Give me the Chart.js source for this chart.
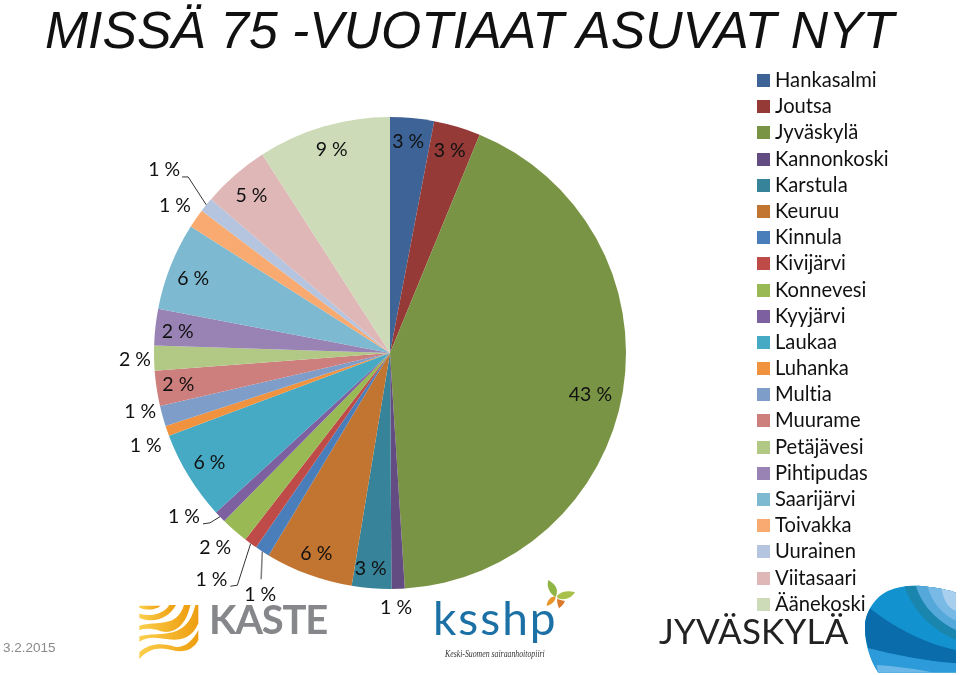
<!DOCTYPE html>
<html>
<head>
<meta charset="utf-8">
<title>Missä 75-vuotiaat asuvat nyt</title>
<script src="https://cdn.jsdelivr.net/npm/chart.js@4/dist/chart.umd.min.js"></script>
<style>
    html, body { margin: 0; padding: 0; background: #fff; }
    #slide { position: relative; width: 960px; height: 675px; overflow: hidden; }
    #slide > * { position: absolute; }
    #pie { left: 0; top: 0; }
    h1 {
        left: 45px; top: 0; margin: 0; white-space: nowrap;
        font: italic 400 51.7px "Liberation Sans", sans-serif; color: #111;
    }
    #date { left: 3px; top: 640px; font: 13.5px "Liberation Sans", sans-serif; color: #8a8a8a; }
    #legend {
        left: 757px; top: 66px; margin: 0; padding: 0; list-style: none;
        font: 20.2px Lato, sans-serif; font-variant-ligatures: none; color: #111;
    }
    #legend li { height: 26.2px; line-height: 26.2px; white-space: nowrap; }
    #legend i { display: inline-block; width: 13px; height: 13px; margin-right: 5px; }
    .logo-text { white-space: nowrap; font-family: Lato, sans-serif; }
</style>
</head>
<body>
<div id="slide">
    <canvas id="pie" width="960" height="675"></canvas>
    <h1>MISSÄ 75 -VUOTIAAT ASUVAT NYT</h1>
    <ul id="legend"></ul>
    <div id="date">3.2.2015</div>

    <!-- KASTE logo -->
    <svg style="left:130px;top:595px" width="100" height="75" viewBox="0 0 300 225">
        <defs>
            <linearGradient id="kasteGold" x1="0" x2="1" y1="0" y2="0">
                <stop offset="0" stop-color="#fbcf4c" />
                <stop offset="1" stop-color="#ee9e10" />
            </linearGradient>
        </defs>
        <g fill="url(#kasteGold)">
            <path d="M28 32 L92 32 C78 44 52 48 28 38Z" />
            <path d="M28 56 C60 66 100 58 118 30 L138 30 C115 72 70 86 28 68Z" />
            <path d="M28 92 C85 76 140 100 162 30 L181 30 C165 105 120 120 85 106 C65 100 45 100 28 105Z" />
            <path d="M28 124 C90 108 170 140 196 30 L205 30 L205 85 C180 145 130 135 90 130 C65 125 45 130 28 140Z" />
            <path d="M28 172 C60 140 105 145 135 155 C165 160 190 135 205 105 L205 135 C190 165 160 175 125 165 C90 155 55 160 28 192Z" />
        </g>
    </svg>
    <div class="logo-text" style="left:209px;top:594.5px;font-size:40px;font-weight:700;letter-spacing:-1.2px;color:#85878a">KASTE</div>

    <!-- ksshp logo -->
    <div class="logo-text" style="left:433px;top:590px;font-size:46px;letter-spacing:2px;color:#1b70a6">ksshp</div>
    <svg style="left:425px;top:575px" width="160" height="90" viewBox="0 0 480 270">
        <path d="M370 15 C392 28 402 44 392 66 C380 60 362 40 370 15Z" fill="#8fb545" />
        <path d="M396 62 C410 48 432 46 450 52 C440 68 420 78 398 70Z" fill="#a9c04a" />
        <path d="M388 64 C376 66 366 78 365 92 C378 90 390 80 392 68Z" fill="#e8952c" />
        <path d="M396 72 C408 76 418 78 420 78 C416 88 408 96 402 100 C398 90 396 80 396 72Z" fill="#d9792b" />
    </svg>
    <div style="left:445px;top:649px;white-space:nowrap;transform:scaleX(0.82);transform-origin:left;font:italic 9.5px 'Liberation Serif',serif;color:#333">Keski-Suomen sairaanhoitopiiri</div>

    <!-- Jyväskylä logo -->
    <div class="logo-text" style="left:659px;top:609px;font-size:35px;letter-spacing:0.2px;color:#222">JYVÄSKYLÄ</div>
    <svg style="left:855px;top:580px" width="105" height="95" viewBox="0 0 315 285">
        <defs>
            <clipPath id="blob">
                <path d="M30 135 C32 95 60 50 100 32 C140 14 190 14 230 22 C260 26 285 32 303 38 L303 278 L70 278 C45 240 28 190 30 135Z" />
            </clipPath>
        </defs>
        <g clip-path="url(#blob)">
            <rect width="315" height="285" fill="#1293d0" />
            <path d="M145 10 C170 90 230 150 303 180 L303 10Z" fill="#1a86ae" />
            <path d="M180 10 C200 80 250 125 303 150 L303 10Z" fill="#55a8da" />
            <path d="M215 10 C228 65 262 105 303 122 L303 10Z" fill="#79b9e6" />
            <path d="M258 10 C262 65 285 88 303 92 L303 10Z" fill="#a8cfee" />
            <path d="M45 85 C100 130 200 190 303 210 L303 250 C220 245 120 225 40 205 L20 130Z" fill="#0b6cab" />
            <path d="M40 205 C120 225 220 245 303 250 L303 285 L60 285Z" fill="#2d9ad9" />
            <path d="M65 255 C140 260 220 272 262 285 L70 285Z" fill="#6cb8e8" />
        </g>
    </svg>
</div>

<script>
const categories = [
    'Hankasalmi', 'Joutsa', 'Jyväskylä', 'Kannonkoski', 'Karstula', 'Keuruu', 'Kinnula',
    'Kivijärvi', 'Konnevesi', 'Kyyjärvi', 'Laukaa', 'Luhanka', 'Multia', 'Muurame',
    'Petäjävesi', 'Pihtipudas', 'Saarijärvi', 'Toivakka', 'Uurainen', 'Viitasaari', 'Äänekoski'
];

// share of the age group per municipality
const shares = [3.0, 3.2, 42.8, 0.9, 2.7, 6.0, 1.0, 0.9, 1.9, 0.8, 6.1, 0.7, 1.4, 2.4, 1.7, 2.5, 6.0, 1.3, 1.0, 4.6, 9.1];

// labels as printed on the slide
const shareLabels = [
    '3 %', '3 %', '43 %', '1 %', '3 %', '6 %', '1 %', '1 %', '2 %', '1 %', '6 %',
    '1 %', '1 %', '2 %', '2 %', '2 %', '6 %', '1 %', '1 %', '5 %', '9 %'
];

const sliceColors = [
    '#3e6497', '#953a37', '#7a9445', '#634c81', '#37839a', '#c27530', '#4a7ebb',
    '#be4b48', '#98b954', '#7d60a0', '#46aac5', '#f0923e', '#7f9dc9', '#cd7f7d',
    '#b1c985', '#9983b5', '#7db9d0', '#f9aa70', '#b5c4df', '#dfb7b6', '#cddbb8'
];

// hand placed label offsets from each slice's centre point
const labelNudges = [
    [7, -94], [26, -89], [84, 23], [2, 137], [-10, 98], [-33, 90], [-66, 142],
    [-109, 131], [-97, 106], [-121, 82], [-80, 48], [-133, 54], [-136, 27], [-95, 14],
    [-137, 4], [-95, -8], [-87, -31], [-118, -80], [-134, -109], [-61, -68], [-25, -90]
];

// leader lines: slice index -> points relative to the label, last stop is the slice edge
const leaders = {
    6: { color: '#7f7f7f', width: 1.5, points: [[1, -15]] },
    7: { color: '#333', width: 1, points: [[19, 7], [26, 6]] },
    9: { color: '#333', width: 1, points: [[19, 7], [26, 6]] },
    18: { color: '#333', width: 1, points: [[18, 7], [24, 7]] }
};

// Prints the value labels and their leader lines
const sliceLabels = {
    id: 'sliceLabels',
    afterDatasetsDraw(chart) {
        const ctx = chart.ctx;
        chart.getDatasetMeta(0).data.forEach((arc, i) => {
            const { x: cx, y: cy, startAngle, endAngle, outerRadius } = arc.getProps(['x', 'y', 'startAngle', 'endAngle', 'outerRadius'], true);
            const mid = arc.getCenterPoint();
            const x = mid.x + labelNudges[i][0];
            const y = mid.y + labelNudges[i][1];

            const leader = leaders[i];
            if (leader) {
                const angle = (startAngle + endAngle) / 2;
                ctx.beginPath();
                leader.points.forEach(([dx, dy], p) => {
                    if (p === 0) ctx.moveTo(x + dx, y + dy);
                    else ctx.lineTo(x + dx, y + dy);
                });
                ctx.lineTo(cx + Math.cos(angle) * outerRadius, cy + Math.sin(angle) * outerRadius);
                ctx.strokeStyle = leader.color;
                ctx.lineWidth = leader.width;
                ctx.stroke();
            }

            ctx.font = '19.5px Lato, sans-serif';
            ctx.fillStyle = '#111';
            ctx.textAlign = 'center';
            ctx.textBaseline = 'middle';
            ctx.fillText(shareLabels[i], x, y);
        });
    }
};

new Chart(document.getElementById('pie').getContext('2d'), {
    type: 'pie',
    data: {
        labels: categories,
        datasets: [{
            data: shares,
            backgroundColor: sliceColors,
            borderWidth: 0
        }]
    },
    options: {
        responsive: false,
        animation: false,
        layout: { padding: { left: 154, right: 334, top: 117, bottom: 86 } },
        plugins: {
            legend: { display: false },
            tooltip: { enabled: false }
        }
    },
    plugins: [sliceLabels]
});

// Legend sits far from the pie, so it is built as a plain list
const legend = document.getElementById('legend');
categories.forEach((name, i) => {
    const item = document.createElement('li');
    const swatch = document.createElement('i');
    swatch.style.background = sliceColors[i];
    item.append(swatch, name);
    legend.append(item);
});
</script>
</body>
</html>
